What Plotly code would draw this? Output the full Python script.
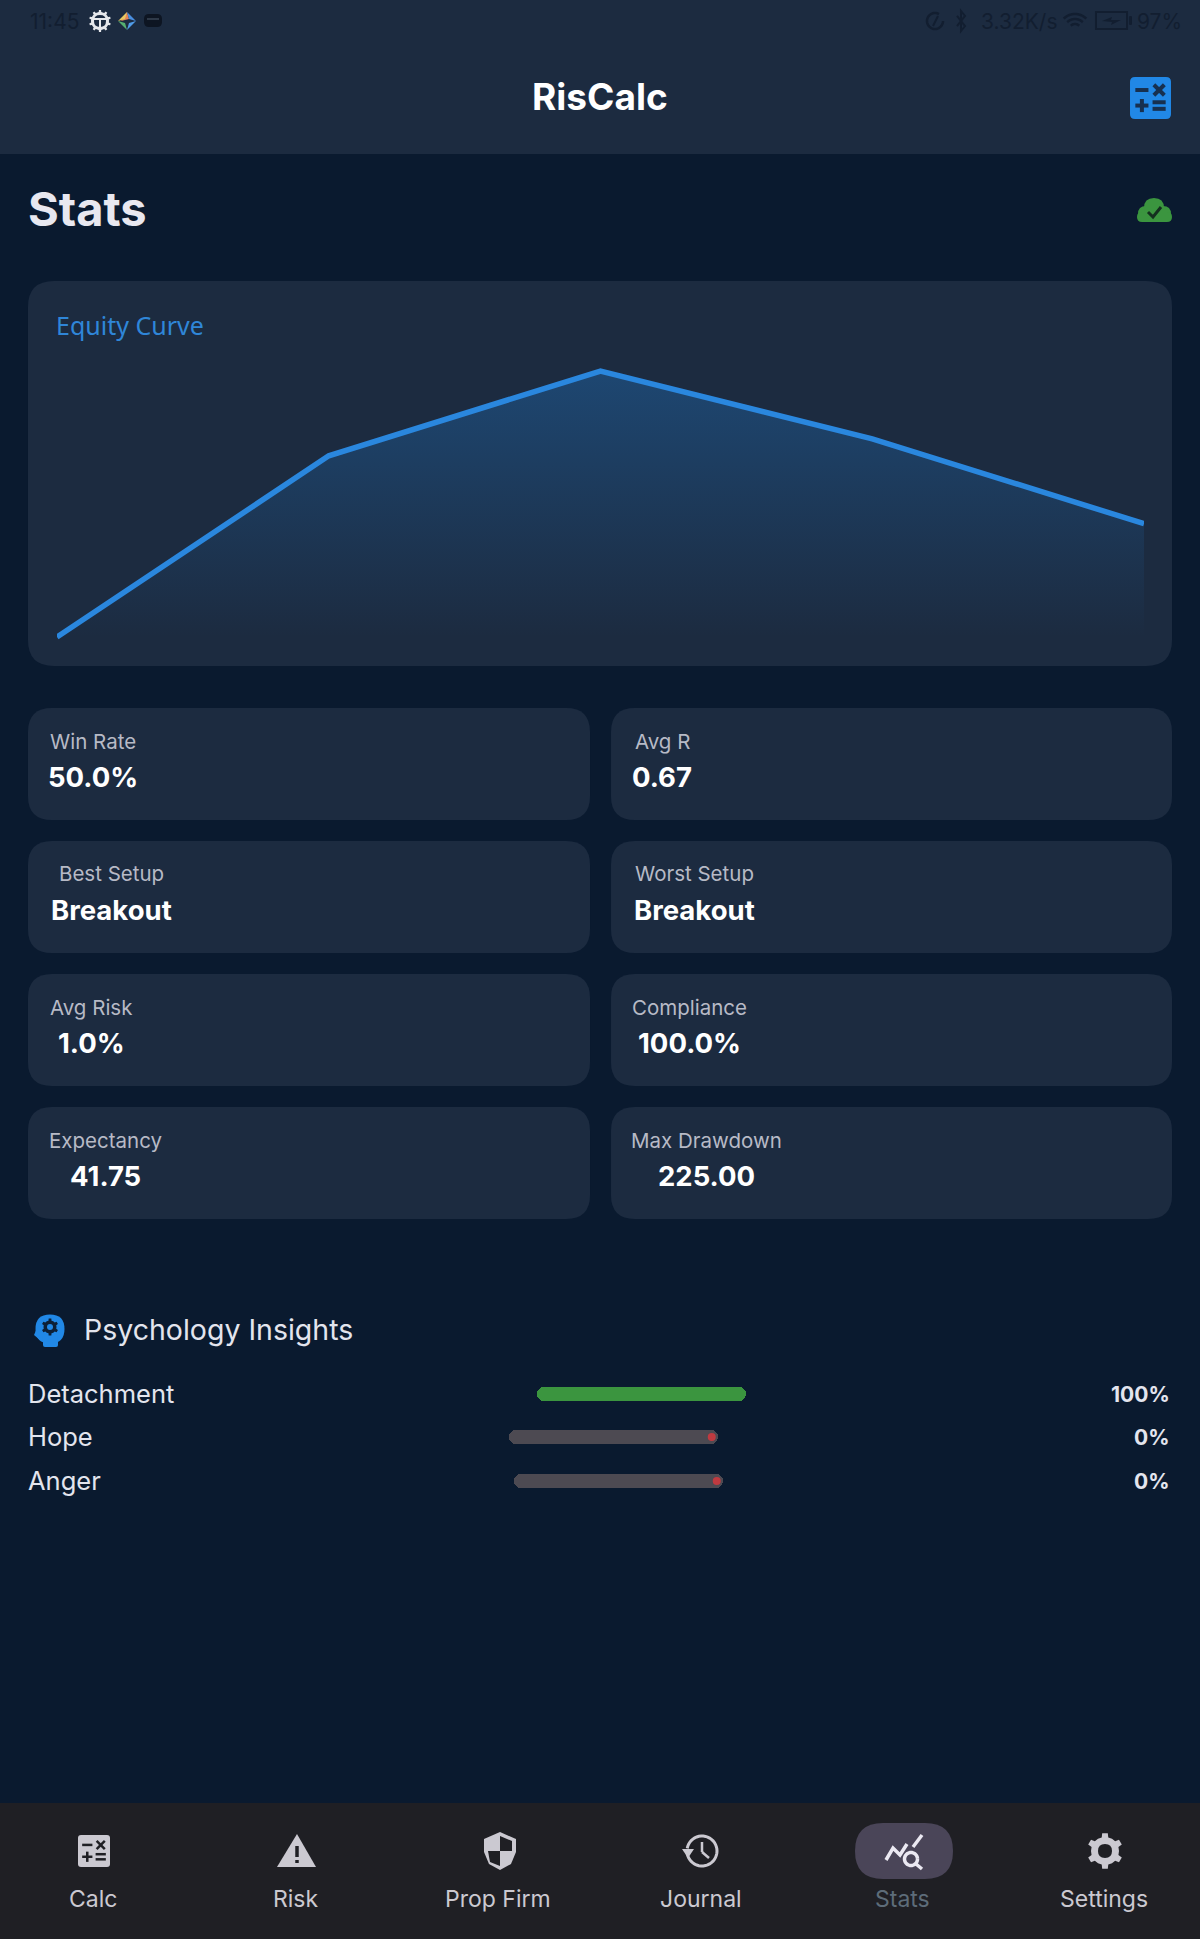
import math

import plotly.graph_objects as go

W = 1200
H = 1939

# Data
equity_trade = [0, 1, 2, 3, 4]
equity_value = [0, 267, 392, 292, 167]

stat_labels = ["Win Rate", "Avg R", "Best Setup", "Worst Setup", "Avg Risk", "Compliance", "Expectancy", "Max Drawdown"]
stat_values = ["50.0%", "0.67", "Breakout", "Breakout", "1.0%", "100.0%", "41.75", "225.00"]

psych_labels = ["Detachment", "Hope", "Anger"]
psych_values = [100, 0, 0]

nav_labels = ["Calc", "Risk", "Prop Firm", "Journal", "Stats", "Settings"]

# Colours
BG = "#0a1a2f"
CARD = "#1c2b40"
BLUE = "#2188e6"
NAV = "#1f1f24"
NAV_INK = "#cbc9d1"
DARK = "#121e30"
GREEN = "#3b953f"
FONT = "Inter"


def px(x):
    return x / W


def py(y):
    return 1 - y / H


def pt(x, y):
    return f"{px(x):.5f},{py(y):.5f}"


shapes = []
annotations = []


def rrect(x0, y0, x1, y1, r, fill):
    d = (f"M{pt(x0 + r, y0)} L{pt(x1 - r, y0)} Q{pt(x1, y0)} {pt(x1, y0 + r)} "
         f"L{pt(x1, y1 - r)} Q{pt(x1, y1)} {pt(x1 - r, y1)} "
         f"L{pt(x0 + r, y1)} Q{pt(x0, y1)} {pt(x0, y1 - r)} "
         f"L{pt(x0, y0 + r)} Q{pt(x0, y0)} {pt(x0 + r, y0)} Z")
    shapes.append(dict(type="path", xref="paper", yref="paper", path=d, fillcolor=fill,
                       line=dict(width=0), layer="below"))


def poly(points, fill=None, line=None, width=2, close=True):
    d = "M" + " L".join(pt(x, y) for x, y in points) + (" Z" if close else "")
    shapes.append(dict(type="path", xref="paper", yref="paper", path=d,
                       fillcolor=fill if fill else "rgba(0,0,0,0)",
                       line=dict(width=width if line else 0, color=line if line else "rgba(0,0,0,0)"),
                       layer="below"))


def seg(x0, y0, x1, y1, color, width):
    poly([(x0, y0), (x1, y1)], line=color, width=width, close=False)


def dot(x, y, r, fill):
    rrect(x - r, y - r, x + r, y + r, r, fill)


def arc(cx, cy, r, a0, a1, n=40):
    return [(cx + r * math.cos(math.radians(a0 + (a1 - a0) * i / n)),
             cy + r * math.sin(math.radians(a0 + (a1 - a0) * i / n))) for i in range(n + 1)]


def label(x, y, text, size, color, anchor="left", bold=False, family=None):
    annotations.append(dict(x=px(x), y=py(y), xref="paper", yref="paper", text=f"<b>{text}</b>" if bold else text,
                            showarrow=False, xanchor=anchor, yanchor="middle",
                            font=dict(size=size, color=color, family=family or FONT)))


def calc_icon(x0, y0, x1, y1, r, body, ink, w):
    rrect(x0, y0, x1, y1, r, body)
    dx, dy = (x1 - x0), (y1 - y0)
    cxl, cxr = x0 + dx * 0.29, x0 + dx * 0.71
    cyt, cyb = y0 + dy * 0.31, y0 + dy * 0.68
    s = dx * 0.16
    seg(cxl - s, cyt, cxl + s, cyt, ink, w)
    seg(cxr - s * .8, cyt - s * .8, cxr + s * .8, cyt + s * .8, ink, w)
    seg(cxr - s * .8, cyt + s * .8, cxr + s * .8, cyt - s * .8, ink, w)
    seg(cxl - s, cyb, cxl + s, cyb, ink, w)
    seg(cxl, cyb - s, cxl, cyb + s, ink, w)
    seg(cxr - s, cyb - s * .5, cxr + s, cyb - s * .5, ink, w)
    seg(cxr - s, cyb + s * .5, cxr + s, cyb + s * .5, ink, w)


def gear(cx, cy, ro, ri, hole, fill, bg, teeth=6):
    points = []
    for i in range(teeth):
        a = 360 / teeth * i - 90
        step = 180 / teeth
        for da, rad in ((-step, ri), (-step * .45, ri), (-step * .3, ro), (step * .3, ro), (step * .45, ri)):
            t = math.radians(a + da)
            points.append((cx + rad * math.cos(t), cy + rad * math.sin(t)))
    poly(points, fill=fill)
    dot(cx, cy, hole, bg)


# Page
rrect(0, 0, W, 154, 0, CARD)
rrect(0, 1803, W, H, 0, NAV)

# Status bar
label(28, 21, "11:45", 21, DARK)
gear(100, 21, 11, 9, 6, "#e6e8ec", CARD, teeth=10)
seg(94, 19, 106, 19, "#e6e8ec", 2)
seg(100, 19, 100, 28, "#e6e8ec", 2)
poly([(127, 12), (129, 19), (121, 21)], fill="#e2845a")
poly([(127, 12), (129, 19), (136, 21)], fill="#4a8fe0")
poly([(136, 21), (129, 23), (127, 30)], fill="#4f9be8")
poly([(127, 30), (125, 23), (118, 21)], fill="#55b070")
poly([(118, 21), (125, 19), (127, 12)], fill="#e8c860")
rrect(144, 14, 162, 27, 5, "#0d1522")
seg(147, 19, 159, 19, "#3a4656", 1.5)
poly(arc(935, 21, 8, 0, 300), line=DARK, width=2.5, close=False)
seg(933, 26, 938, 16, DARK, 2)
poly([(957, 16), (965, 26), (961, 31), (961, 11), (965, 16), (957, 26)], line=DARK, width=2, close=False)
label(979, 21, "3.32K/s", 21, DARK)
poly(arc(1075, 30, 16, 225, 315), line=DARK, width=2.5, close=False)
poly(arc(1075, 30, 11, 225, 315), line=DARK, width=2.5, close=False)
poly(arc(1075, 30, 6, 225, 315), line=DARK, width=2.5, close=False)
poly([(1096, 12), (1127, 12), (1127, 29), (1096, 29)], line=DARK, width=2)
poly([(1102, 21), (1112, 17), (1111, 20), (1121, 20), (1111, 25), (1112, 22)], fill=DARK)
rrect(1129, 16, 1132, 25, 1, DARK)
label(1135, 21, "97%", 21, DARK)

# Header
label(600, 96.5, "RisCalc", 37, "#ffffff", anchor="center", bold=True)
calc_icon(1130, 77, 1171, 119, 5, BLUE, "#17304f", 4)
label(26, 208, "Stats", 47, "#e8e8f0", bold=True)

# Sync cloud
dot(1146, 214, 8, GREEN)
dot(1154, 208, 10, GREEN)
dot(1163, 214, 8, GREEN)
rrect(1137, 212, 1172, 222, 5, GREEN)
poly([(1148, 212), (1153, 217), (1161, 207)], line="#14301f", width=3, close=False)

# Equity card
rrect(28, 281, 1172, 666, 26, CARD)
label(54, 325, "Equity Curve", 25, "#2f86d8", family="Noto Sans")

# Stat cards
card_cols = [(28, 590), (611, 1172)]
card_rows = [(708, 820), (841, 953), (974, 1086), (1107, 1219)]
label_y = [741, 874, 1007, 1140]
value_y = [777, 910, 1043, 1176]
text_cx = [93, 662, 111, 694, 91, 689, 105, 706]
for i, (lab, val) in enumerate(zip(stat_labels, stat_values)):
    row, col = i // 2, i % 2
    rrect(card_cols[col][0], card_rows[row][0], card_cols[col][1], card_rows[row][1], 24, CARD)
    label(text_cx[i], label_y[row], lab, 20.5, "#b7bac6", anchor="center")
    label(text_cx[i], value_y[row], val, 27.5, "#ffffff", anchor="center", bold=True)

# Psychology section
dot(50, 1329, 14.5, BLUE)
rrect(43, 1334, 58, 1347, 2, BLUE)
poly([(38, 1326), (34, 1335), (40, 1340)], fill=BLUE)
gear(50, 1327, 8.5, 6.5, 3, "#0d2036", BLUE, teeth=6)
label(82, 1329, "Psychology Insights", 28.5, "#e3e5ee")

psych_y = [1394, 1437, 1481]
track_x = [537, 509, 514]
for name, val, y in zip(psych_labels, psych_values, psych_y):
    label(26, y - 1, name, 25.5, "#e3e5ee")
    label(1172, y, f"{val}%", 21, "#e3e5ee", anchor="right", bold=True)

# Bottom navigation
nav_x = [93, 296, 498, 701, 903, 1104]
for name, x in zip(nav_labels, nav_x):
    label(x, 1899, name, 23, "#5d6c79" if name == "Stats" else NAV_INK, anchor="center")

calc_icon(78, 1835, 110, 1867, 3, NAV_INK, NAV, 2.5)

poly([(297, 1834), (316, 1867), (277, 1867)], fill=NAV_INK)
seg(297, 1846, 297, 1857, NAV, 3.5)
seg(297, 1860, 297, 1863, NAV, 3.5)

shield = [(500, 1832), (516, 1839), (516, 1852), (511, 1864), (500, 1870), (489, 1864), (484, 1852), (484, 1839)]
poly(shield, fill=NAV_INK)
poly([(500, 1836), (512, 1841), (512, 1851), (500, 1851)], fill=NAV)
poly([(500, 1851), (488, 1851), (490, 1862), (500, 1866)], fill=NAV)

poly(arc(702, 1851, 15, -170, 170), line=NAV_INK, width=3, close=False)
poly([(682, 1849), (694, 1849), (688, 1858)], fill=NAV_INK)
seg(702, 1842, 702, 1852, NAV_INK, 2.5)
seg(702, 1852, 709, 1858, NAV_INK, 2.5)

rrect(855, 1823, 953, 1879, 28, "#4a4558")
ink = "#ebe9f2"
poly([(886, 1860), (893, 1848), (900, 1855), (907, 1844)], line=ink, width=3.5, close=False)
seg(913, 1847, 922, 1835, ink, 3.5)
poly(arc(911, 1859, 6.5, 0, 360), line=ink, width=3.5, close=False)
seg(916, 1864, 922, 1869, ink, 3.5)

gear(1105, 1851, 18, 14, 7, NAV_INK, NAV, teeth=6)


fig = go.Figure()

# Equity curve
fig.add_trace(go.Scatter(
    x=equity_trade, y=equity_value,
    mode="lines",
    line=dict(color="#2a87de", width=5.5),
    fill="tozeroy",
    fillgradient=dict(type="vertical",
                      colorscale=[[0, "rgba(33,136,230,0)"], [1, "rgba(33,136,230,0.30)"]]),
    hoverinfo="skip",
))

# Insight bars, one small axis pair per row
# two rounded halves grow out of the middle so both ends are round, a square bar hides the join
for i, val in enumerate(psych_values):
    xa, ya = f"x{i + 2}", f"y{i + 2}"
    bar_color = GREEN if val > 0 else "#4d4a52"
    for half in (50, -50):
        fig.add_trace(go.Bar(x=[half], y=[0], base=[50], orientation="h", xaxis=xa, yaxis=ya,
                             marker=dict(color=bar_color, cornerradius=7, line=dict(width=0)), hoverinfo="skip"))
    fig.add_trace(go.Bar(x=[50], y=[0], base=[25], orientation="h", xaxis=xa, yaxis=ya,
                         marker=dict(color=bar_color, line=dict(width=0)), hoverinfo="skip"))
    if val == 0:
        fig.add_trace(go.Scatter(x=[97], y=[0], mode="markers", xaxis=xa, yaxis=ya,
                                 marker=dict(color="#bf3a40", size=8), hoverinfo="skip"))

units_per_px = max(equity_value) / (637 - 371)
off_axis = dict(visible=False, fixedrange=True)
layout_axes = dict(
    xaxis=dict(domain=[px(57), px(1144)], range=[0, 4], **off_axis),
    yaxis=dict(domain=[py(650), py(345)],
               range=[-13 * units_per_px, max(equity_value) + 26 * units_per_px], **off_axis),
)
for i in range(3):
    top = psych_y[i] - 7
    layout_axes[f"xaxis{i + 2}"] = dict(domain=[px(track_x[i]), px(track_x[i] + 209)], range=[0, 100],
                                        anchor=f"y{i + 2}", **off_axis)
    layout_axes[f"yaxis{i + 2}"] = dict(domain=[py(top + 14), py(top)], range=[-0.5, 0.5],
                                        anchor=f"x{i + 2}", **off_axis)

fig.update_layout(
    width=W, height=H,
    margin=dict(l=0, r=0, t=0, b=0),
    paper_bgcolor=BG, plot_bgcolor="rgba(0,0,0,0)",
    showlegend=False,
    barmode="overlay", bargap=0,
    shapes=shapes, annotations=annotations,
    **layout_axes,
)

fig.write_html("out.html", config=dict(displayModeBar=False),
               post_script="document.body.style.margin='0';document.body.style.overflow='hidden';")
